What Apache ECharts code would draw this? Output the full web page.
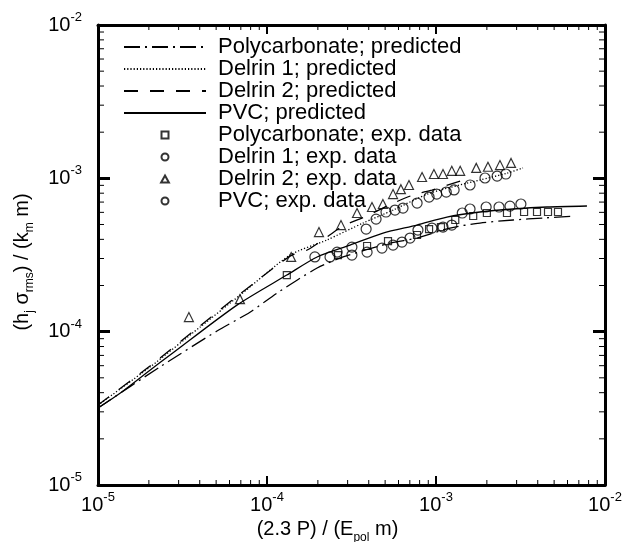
<!DOCTYPE html>
<html>
<head>
<meta charset="utf-8">
<script src="https://cdn.jsdelivr.net/npm/echarts@6/dist/echarts.min.js"></script>
<style>html,body{margin:0;padding:0;background:#fff;}#c{width:640px;height:542px;}</style>
</head>
<body>
<div id="c"></div>
<script>
// ---- Predicted curves ----
const polyPredX = [1e-5, 2.33e-5, 5.06e-5, 7.93e-5, 1.15e-4, 1.98e-4, 2.82e-4, 5.35e-4, 7.72e-4, 1.21e-3, 1.82e-3, 2.86e-3, 4.30e-3, 6.64e-3];
const polyPredY = [3.18e-5, 5.9e-5, 1.01e-4, 1.34e-4, 1.79e-4, 2.60e-4, 3.07e-4, 3.78e-4, 4.08e-4, 4.74e-4, 5.11e-4, 5.35e-4, 5.51e-4, 5.68e-4];

const delrin1PredX = [1e-5, 2.03e-5, 4.01e-5, 6.92e-5, 1.37e-4, 2.26e-4, 3.70e-4, 5.57e-4, 9.2e-4, 1.82e-3, 2.63e-3, 3.27e-3];
const delrin1PredY = [3.32e-5, 5.88e-5, 1.07e-4, 1.73e-4, 3.16e-4, 3.96e-4, 5.11e-4, 6.21e-4, 8.0e-4, 9.75e-4, 1.08e-3, 1.17e-3];

const delrin2PredX = [1e-5, 2.03e-5, 4.01e-5, 6.92e-5, 1.37e-4, 1.73e-4, 2.26e-4, 2.82e-4, 3.91e-4, 5.13e-4, 7.3e-4, 9.46e-4, 1.39e-3];
const delrin2PredY = [3.32e-5, 5.97e-5, 1.09e-4, 1.76e-4, 3.11e-4, 3.41e-4, 4.14e-4, 4.89e-4, 5.68e-4, 6.6e-4, 7.78e-4, 8.39e-4, 9.6e-4];

const pvcPredX = [1e-5, 1.35e-5, 2.03e-5, 2.67e-5, 6.64e-5, 1.31e-4, 1.98e-4, 3.10e-4, 4.86e-4, 7.72e-4, 1.16e-3, 1.82e-3, 2.86e-3, 4.54e-3, 7.82e-3];
const pvcPredY = [3.18e-5, 3.97e-5, 5.61e-5, 7.04e-5, 1.49e-4, 2.34e-4, 3.07e-4, 3.67e-4, 4.40e-4, 4.96e-4, 5.59e-4, 6.03e-4, 6.31e-4, 6.50e-4, 6.6e-4];

// ---- Experimental data ----
const polyExpX = [1.31e-4, 2.63e-4, 3.91e-4, 5.20e-4, 7.72e-4, 9.1e-4, 1.07e-3, 1.30e-3, 1.66e-3, 2.00e-3, 2.63e-3, 3.32e-3, 3.96e-3, 4.6e-3, 5.27e-3];
const polyExpY = [2.34e-4, 3.16e-4, 3.62e-4, 3.90e-4, 4.27e-4, 4.67e-4, 4.81e-4, 5.35e-4, 5.68e-4, 5.94e-4, 5.94e-4, 6.03e-4, 6.03e-4, 6.03e-4, 6.03e-4];

const delrin1ExpX = [3.86e-4, 4.42e-4, 5.06e-4, 5.72e-4, 6.38e-4, 7.73e-4, 9.1e-4, 1.01e-3, 1.15e-3, 1.28e-3, 1.59e-3, 1.95e-3, 2.30e-3, 2.59e-3];
const delrin1ExpY = [4.67e-4, 5.42e-4, 6.03e-4, 6.21e-4, 6.40e-4, 6.90e-4, 7.55e-4, 7.9e-4, 8.14e-4, 8.4e-4, 9.05e-4, 1.005e-3, 1.035e-3, 1.067e-3];

const delrin2ExpX = [3.45e-5, 6.92e-5, 1.39e-4, 2.03e-4, 2.74e-4, 3.41e-4, 4.18e-4, 4.85e-4, 5.57e-4, 6.2e-4, 6.92e-4, 8.27e-4, 9.72e-4, 1.10e-3, 1.24e-3, 1.39e-3, 1.73e-3, 2.03e-3, 2.39e-3, 2.78e-3];
const delrin2ExpY = [1.245e-4, 1.63e-4, 3.07e-4, 4.46e-4, 4.96e-4, 5.94e-4, 6.5e-4, 6.8e-4, 7.9e-4, 8.5e-4, 9.05e-4, 1.02e-3, 1.067e-3, 1.067e-3, 1.12e-3, 1.12e-3, 1.17e-3, 1.19e-3, 1.22e-3, 1.26e-3];

const pvcExpX = [1.92e-4, 2.36e-4, 2.60e-4, 3.18e-4, 3.18e-4, 3.91e-4, 4.79e-4, 5.57e-4, 6.29e-4, 7.02e-4, 7.82e-4, 9.46e-4, 1.10e-3, 1.24e-3, 1.43e-3, 1.59e-3, 1.98e-3, 2.36e-3, 2.74e-3, 3.18e-3];
const pvcExpY = [3.07e-4, 3.07e-4, 3.30e-4, 3.56e-4, 3.16e-4, 3.30e-4, 3.51e-4, 3.67e-4, 3.84e-4, 4.08e-4, 4.60e-4, 4.74e-4, 4.81e-4, 4.96e-4, 5.94e-4, 6.31e-4, 6.50e-4, 6.50e-4, 6.59e-4, 6.80e-4];

// ---- Axis ticks ----
const axisMin = 1e-5, axisMax = 1e-2;
const minorTicks = [2e-5, 3e-5, 4e-5, 5e-5, 6e-5, 7e-5, 8e-5, 9e-5,
                    2e-4, 3e-4, 4e-4, 5e-4, 6e-4, 7e-4, 8e-4, 9e-4,
                    2e-3, 3e-3, 4e-3, 5e-3, 6e-3, 7e-3, 8e-3, 9e-3];

const legendNames = ['Polycarbonate; predicted', 'Delrin 1; predicted', 'Delrin 2; predicted', 'PVC; predicted',
                     'Polycarbonate; exp. data', 'Delrin 1; exp. data', 'Delrin 2; exp. data', 'PVC; exp. data'];

const FONT = '"Liberation Sans", Arial, Helvetica, sans-serif';
const pairs = (xs, ys) => xs.map((x, i) => [x, ys[i]]);

const labelRich = {
  b: { fontSize: 20, fontFamily: FONT, color: '#000', lineHeight: 28 },
  s: { fontSize: 13, fontFamily: FONT, color: '#000', lineHeight: 13, verticalAlign: 'top' }
};
const fmt = v => '{b|10}{s|' + Math.round(Math.log10(v)) + '}';

function baseAxis(extra) {
  return Object.assign({
    type: 'log', logBase: 10, min: axisMin, max: axisMax,
    splitLine: { show: false },
    axisLine: { show: true, onZero: false, lineStyle: { color: '#000', width: 3 } }
  }, extra);
}

const lineSeries = (name, xs, ys, type) => ({
  name, type: 'line', data: pairs(xs, ys), symbol: 'none', smooth: 0.25,
  lineStyle: { color: '#000', width: 1.3, type: type },
  itemStyle: { color: 'rgba(0,0,0,0)', borderColor: 'rgba(0,0,0,0)' },
  z: 3, animation: false
});
const scatterSeries = (name, xs, ys, symbol, size) => ({
  name, type: 'scatter', data: pairs(xs, ys), symbol, symbolSize: size, symbolKeepAspect: true,
  itemStyle: { color: 'rgba(255,255,255,0)', borderColor: '#000', borderWidth: 1.2 },
  z: 4, animation: false
});

function minorTickSeries(isX) {
  return {
    type: 'custom', silent: true, animation: false, z: 5,
    data: minorTicks.map(v => isX ? [v, axisMin] : [axisMin, v]),
    encode: { x: 0, y: 1 },
    renderItem: function (params, api) {
      const v = api.value(isX ? 0 : 1);
      const L = isX ? 5 : 6;
      let a, b, shapes;
      if (isX) {
        a = api.coord([v, axisMin]); b = api.coord([v, axisMax]);
        shapes = [[a[0], a[1], a[0], a[1] - L], [b[0], b[1], b[0], b[1] + L]];
      } else {
        a = api.coord([axisMin, v]); b = api.coord([axisMax, v]);
        shapes = [[a[0], a[1], a[0] + L, a[1]], [b[0], b[1], b[0] - L, b[1]]];
      }
      return {
        type: 'group',
        children: shapes.map(s => ({
          type: 'line', shape: { x1: s[0], y1: s[1], x2: s[2], y2: s[3] },
          style: { stroke: '#000', lineWidth: 1 }
        }))
      };
    }
  };
}

const legendData = legendNames.map((n, i) => {
  if (i === 4) return { name: n, icon: 'path://M0,0L10,0L10,10L0,10Z' };
  if (i === 6) return { name: n, icon: 'path://M5,0L10,9L0,9Z' };
  return { name: n };
});

const chart = echarts.init(document.getElementById('c'), null, { renderer: 'canvas' });
chart.setOption({
  backgroundColor: '#fff',
  animation: false,
  grid: { left: 98, right: 35, top: 25, bottom: 57, containLabel: false, outerBoundsMode: 'none' },
  legend: {
    data: legendData, orient: 'vertical', left: 118, top: 31,
    itemWidth: 82, itemHeight: 7, itemGap: 0, selectedMode: false, symbolKeepAspect: true,
    textStyle: { fontSize: 22, fontFamily: FONT, color: '#000', lineHeight: 22, padding: [0, 0, 0, 7] }
  },
  xAxis: [
    baseAxis({
      position: 'bottom',
      axisTick: { show: true, inside: true, length: 9, lineStyle: { color: '#000', width: 2 } },
      axisLabel: { formatter: fmt, rich: labelRich, margin: 6, showMinLabel: true, showMaxLabel: true },
      name: '{t|(2.3 P) / (E}{sub|pol}{t| m)}', nameLocation: 'middle', nameGap: 20,
      nameTextStyle: {
        padding: [0, 48, 0, 0],
        rich: {
          t: { fontSize: 20, fontFamily: FONT, color: '#000', lineHeight: 28 },
          sub: { fontSize: 12, fontFamily: FONT, color: '#000', lineHeight: 12, verticalAlign: 'bottom' }
        }
      }
    }),
    baseAxis({
      position: 'top',
      axisTick: { show: true, inside: true, length: 9, lineStyle: { color: '#000', width: 2 } },
      axisLabel: { show: false }
    })
  ],
  yAxis: [
    baseAxis({
      position: 'left',
      axisTick: { show: true, inside: true, length: 12, lineStyle: { color: '#000', width: 3 } },
      axisLabel: { formatter: fmt, rich: labelRich, margin: 16, showMinLabel: true, showMaxLabel: true },
      name: '{t|(h}{sub|j}{t| σ}{sub|rms}{t|) / (k}{sub|m}{t| m)}', nameLocation: 'middle', nameGap: 62,
      nameRotate: 90,
      nameTextStyle: {
        padding: [0, 14, 0, 0],
        rich: {
          t: { fontSize: 20, fontFamily: FONT, color: '#000', lineHeight: 28 },
          sub: { fontSize: 12, fontFamily: FONT, color: '#000', lineHeight: 12, verticalAlign: 'bottom' }
        }
      }
    }),
    baseAxis({
      position: 'right',
      axisTick: { show: true, inside: true, length: 12, lineStyle: { color: '#000', width: 3 } },
      axisLabel: { show: false }
    })
  ],
  series: [
    lineSeries(legendNames[0], polyPredX, polyPredY, [16, 5, 2, 5]),
    lineSeries(legendNames[1], delrin1PredX, delrin1PredY, [1.2, 2]),
    lineSeries(legendNames[2], delrin2PredX, delrin2PredY, [14, 12]),
    lineSeries(legendNames[3], pvcPredX, pvcPredY, 'solid'),
    scatterSeries(legendNames[4], polyExpX, polyExpY, 'rect', 7),
    scatterSeries(legendNames[5], delrin1ExpX, delrin1ExpY, 'circle', 10),
    scatterSeries(legendNames[6], delrin2ExpX, delrin2ExpY, 'triangle', 9),
    scatterSeries(legendNames[7], pvcExpX, pvcExpY, 'circle', 10),
    minorTickSeries(true),
    minorTickSeries(false)
  ]
});
</script>
</body>
</html>
